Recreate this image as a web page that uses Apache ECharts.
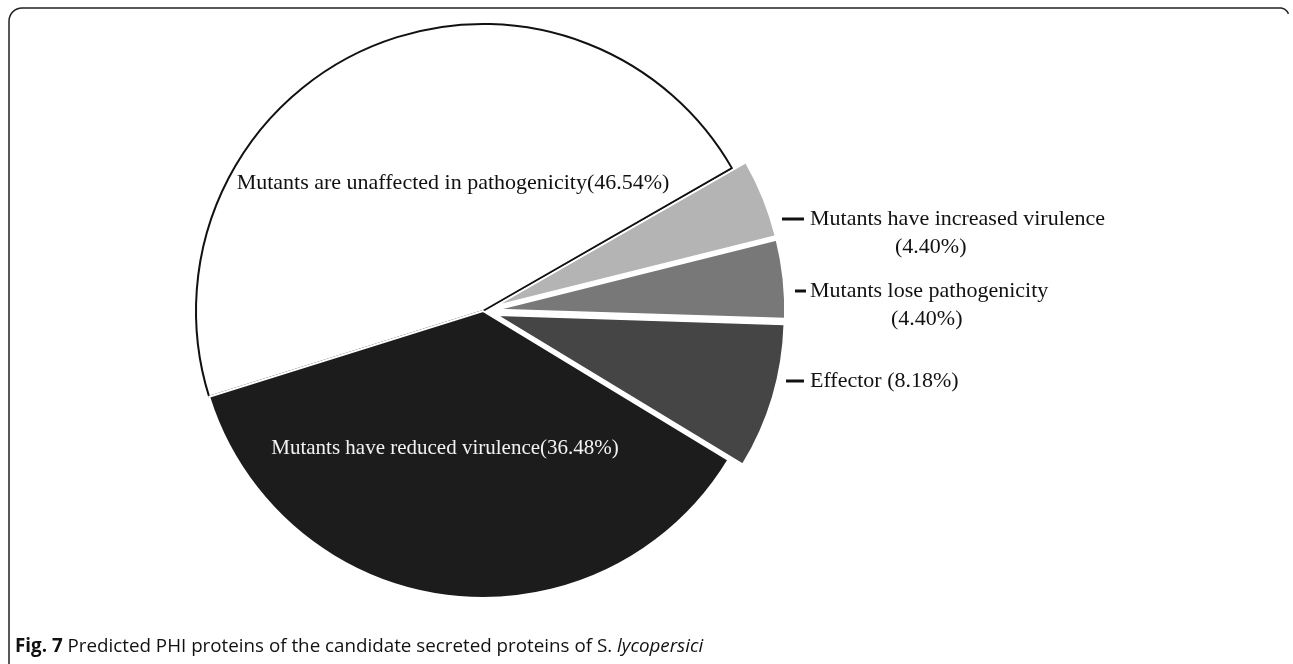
<!DOCTYPE html>
<html>
<head>
<meta charset="utf-8">
<script src="https://cdn.jsdelivr.net/npm/echarts@6/dist/echarts.min.js"></script>
<style>
html,body{margin:0;padding:0;background:#fff;}
#chart{width:1293px;height:664px;}
</style>
</head>
<body>
<div id="chart"></div>
<script>
// ---- data ----
const categories = [
  'Mutants are unaffected in pathogenicity',
  'Mutants have increased virulence',
  'Mutants lose pathogenicity',
  'Effector',
  'Mutants have reduced virulence'
];
const values = [46.54, 4.40, 4.40, 8.18, 36.48];
const captionBold = 'Fig. 7';
const captionText = 'Predicted PHI proteins of the candidate secreted proteins of S. ';
const captionItalic = 'lycopersici';

// ---- styles (not data) ----
const colors = ['#ffffff', '#b4b4b4', '#787878', '#454545', '#1c1c1c'];
const exploded = [false, true, true, true, false];
const insideLabel = [true, false, false, false, true];
const borders = [
  {borderColor: '#111', borderWidth: 2},
  {borderColor: '#fff', borderWidth: 1.5},
  {borderColor: '#fff', borderWidth: 1.5},
  {borderColor: '#fff', borderWidth: 1.5},
  {borderColor: '#fff', borderWidth: 2}
];
const labelPos = [
  {x: 453, y: 183, align: 'center', verticalAlign: 'middle'},
  {x: 782, y: 205, align: 'left', verticalAlign: 'top'},
  {x: 795, y: 277, align: 'left', verticalAlign: 'top'},
  {x: 786, y: 367, align: 'left', verticalAlign: 'top'},
  {x: 445, y: 448, align: 'center', verticalAlign: 'middle'}
];
const insideFont = [22, 0, 0, 0, 21];
const dashW = [0, 22, 11, 18, 0];
const secondPad = [0, 113, 96, 0, 0];
const textStart = 810;

const serif = '"Liberation Serif", "Times New Roman", serif';
const sans = '"Open Sans", sans-serif';
const FS = 22;
const CFS = 18.8;

function fmtPct(v){ return '(' + v.toFixed(2) + '%)'; }

// main pie: slices (exploded via selection) + inside labels
const sliceData = categories.map((name, i) => {
  const item = {
    name: name,
    value: values[i],
    selected: exploded[i],
    itemStyle: Object.assign({color: colors[i]}, borders[i])
  };
  if (insideLabel[i]) {
    item.label = {
      show: true,
      position: 'inside',
      formatter: p => p.name + fmtPct(p.value),
      color: i === 0 ? '#111' : '#f2f2f2',
      fontFamily: serif,
      fontSize: insideFont[i]
    };
  } else {
    item.label = {show: false};
    item.labelLine = {show: false};
  }
  return item;
});

// transparent overlay pie carrying the outside labels
const labelData = categories.map((name, i) => {
  const item = {
    name: name,
    value: values[i],
    itemStyle: {color: 'rgba(0,0,0,0)', borderWidth: 0}
  };
  if (!insideLabel[i]) {
    const twoLine = secondPad[i] > 0;
    item.label = {
      show: true,
      position: 'outside',
      formatter: p => twoLine
        ? '{d|}{t|' + p.name + '}\n{p|' + fmtPct(p.value) + '}'
        : '{d|}{t|' + p.name + ' ' + fmtPct(p.value) + '}',
      rich: {
        d: {backgroundColor: '#111', width: dashW[i], height: 3, lineHeight: 28},
        t: {fontFamily: serif, fontSize: FS, color: '#111', lineHeight: 28, padding: [0, 0, 0, textStart - labelPos[i].x - dashW[i]]},
        p: {fontFamily: serif, fontSize: FS, color: '#111', lineHeight: 28, padding: [0, 0, 0, secondPad[i]]}
      }
    };
  } else {
    item.label = {show: false};
  }
  item.labelLine = {show: false};
  return item;
});

// rounded frame corners (decoration)
function corner(cx, cy, r, a0, a1) {
  const pts = [];
  for (let k = 0; k <= 8; k++) {
    const a = (a0 + (a1 - a0) * k / 8) * Math.PI / 180;
    pts.push([cx + r * Math.cos(a), cy + r * Math.sin(a)]);
  }
  return pts;
}
const framePts = [[9, 664]]
  .concat(corner(22, 21, 13, 180, 270))
  .concat(corner(1280, 17, 9, 270, 340));

const layoutFn = function (params) {
  const p = labelPos[params.dataIndex];
  return {x: p.x, y: p.y, align: p.align, verticalAlign: p.verticalAlign, hideOverlap: false};
};

const common = {
  type: 'pie',
  center: [483, 311],
  radius: [0, 287],
  startAngle: 197.4,
  clockwise: true,
  avoidLabelOverlap: false,
  emphasis: {disabled: true},
  labelLayout: layoutFn
};

const chart = echarts.init(document.getElementById('chart'), null, {renderer: 'canvas'});
chart.setOption({
  backgroundColor: '#fff',
  animation: false,
  title: {
    left: 10,
    top: 632,
    text: '{b|' + captionBold + '} {n|' + captionText + '}{i|' + captionItalic + '}',
    textStyle: {
      fontWeight: 'normal',
      fontFamily: sans,
      fontSize: CFS,
      rich: {
        b: {fontFamily: sans, fontWeight: 'bold', fontSize: CFS, color: '#111'},
        n: {fontFamily: sans, fontWeight: 'normal', fontSize: CFS, color: '#111'},
        i: {fontFamily: sans, fontWeight: 'normal', fontStyle: 'italic', fontSize: CFS, color: '#111'}
      }
    }
  },
  graphic: [{
    type: 'polyline',
    shape: {points: framePts},
    style: {fill: null, stroke: '#222', lineWidth: 1.5}
  }],
  series: [
    Object.assign({}, common, {
      name: 'slices',
      selectedMode: 'multiple',
      selectedOffset: 15,
      data: sliceData
    }),
    Object.assign({}, common, {
      name: 'labels',
      silent: true,
      selectedMode: false,
      data: labelData
    })
  ]
});
</script>
</body>
</html>
